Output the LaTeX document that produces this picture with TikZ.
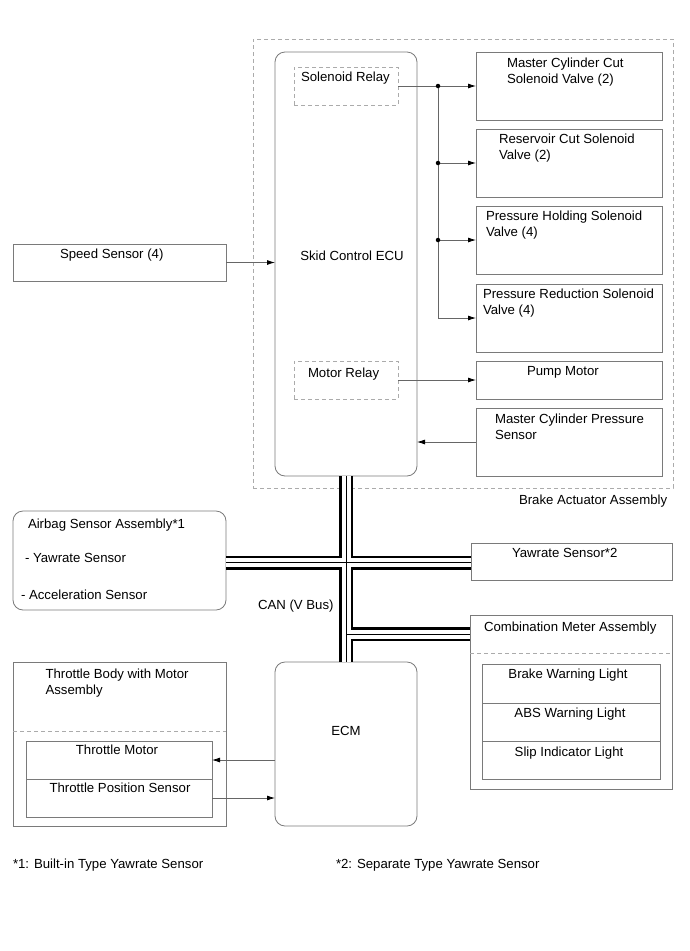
\documentclass[tikz,border=0pt]{standalone}
\usepackage{fontspec}
\setmainfont{Liberation Sans}
\usetikzlibrary{arrows.meta}
\definecolor{lc}{HTML}{7A7A7A}
\definecolor{dc}{HTML}{ABABAB}
\definecolor{ac}{HTML}{666666}
\newcommand\mkbox[6]{\node[#1, anchor=north west, minimum width={(#5-#3)*1pt}, minimum height={(#6-#4)*1pt}] (#2) at (#3,#4) {};}
\begin{document}
\begin{tikzpicture}[x=1pt,y=-1pt,
  every node/.style={inner sep=0pt, outer sep=0pt, font=\fontsize{13.2}{16}\selectfont},
  box/.style={draw=lc, line width=0.8pt},
  rbox/.style={draw=lc, line width=0.8pt, rounded corners=10pt},
  dbox/.style={draw=dc, line width=0.9pt, dash pattern=on 4pt off 3pt},
  dline/.style={draw=dc, line width=0.9pt, dash pattern=on 4pt off 3pt},
  txt/.style={anchor=north west, align=left},
  ctxt/.style={anchor=north, align=center},
  conn/.style={draw=ac, line width=0.8pt, -{Latex[length=8pt,width=5pt,color=black]}},
  plain/.style={draw=ac, line width=0.8pt},
  dot/.style={circle, fill=black, minimum size=4.5pt},
  busA/.style={draw=black, line width=14pt},
  busB/.style={draw=white, line width=9pt},
  busC/.style={draw=black, line width=1pt}
]
\useasboundingbox (0,0) rectangle (690,951);

% Brake actuator assembly
\mkbox{dbox}{act}{253}{39}{673}{488}
\mkbox{rbox}{ecu}{275}{52}{417}{476}
\mkbox{dbox}{srel}{294}{67}{398}{105}
\mkbox{dbox}{mrel}{294}{361}{398}{399}
\mkbox{box}{mcc}{476}{52}{662}{120}
\mkbox{box}{rcs}{476}{129}{662}{197}
\mkbox{box}{phs}{476}{206}{662}{274}
\mkbox{box}{prs}{476}{284}{662}{352}
\mkbox{box}{pump}{476}{361}{662}{399}
\mkbox{box}{mcps}{476}{408}{662}{476}

\node[txt] (tsrel) at (301,72) {Solenoid Relay};
\node[txt] (tmrel) at (308,367.5) {Motor Relay};
\node[ctxt] (tecu) at (352,250.5) {Skid Control ECU};
\node[txt] (tmcc) at (507,57.5) {Master Cylinder Cut\\Solenoid Valve (2)};
\node[txt] (trcs) at (499,133.5) {Reservoir Cut Solenoid\\Valve (2)};
\node[txt] (tphs) at (486,211) {Pressure Holding Solenoid\\Valve (4)};
\node[txt] (tprs) at (483,289) {Pressure Reduction Solenoid\\Valve (4)};
\node[txt] (tpump) at (527,366) {Pump Motor};
\node[txt] (tmcps) at (495,413.5) {Master Cylinder Pressure\\Sensor};
\node[txt] (tact) at (519,495) {Brake Actuator Assembly};

% Speed sensor
\mkbox{box}{speed}{13}{244}{226}{281}
\node[txt] (tspeed) at (60,249) {Speed Sensor (4)};

% connectors in actuator
\coordinate (jv) at (438,86);
\draw[conn] (srel.east) -- (mcc.west |- srel.east);
\draw[plain] (jv) -- (jv |- prs.west);
\draw[conn] (jv |- rcs.west) -- (rcs.west);
\draw[conn] (jv |- phs.west) -- (phs.west);
\draw[conn] (jv |- prs.west) -- (prs.west);
\node[dot] (d1) at (jv) {};
\node[dot] (d2) at (jv |- rcs.west) {};
\node[dot] (d3) at (jv |- phs.west) {};
\draw[conn] (mrel.east) -- (pump.west |- mrel.east);
\draw[conn] (mcps.west) -- (ecu.east |- mcps.west);
\draw[conn] (speed.east) -- (ecu.west |- speed.east);

% Airbag sensor
\mkbox{rbox}{airbag}{13}{511}{226}{610}
\node[txt] (tair) at (28,519) {Airbag Sensor Assembly*1};
\node[txt] (tairy) at (25,553.5) {- Yawrate Sensor};
\node[txt] (taira) at (21,589.5) {- Acceleration Sensor};

% Yawrate sensor
\mkbox{box}{yaw}{471}{543}{672}{580}
\node[txt] (tyaw) at (512,548.5) {Yawrate Sensor*2};

% Combination meter
\mkbox{box}{meter}{470}{615}{672}{789}
\draw[dline] (meter.west |- 0,653) coordinate (mdl) -- (meter.east |- 0,653) coordinate (mdr);
\mkbox{box}{bwl}{482}{664}{660}{703}
\mkbox{box}{abs}{482}{703}{660}{741}
\mkbox{box}{slip}{482}{741}{660}{779}
\node[txt] (tmeter) at (484,622) {Combination Meter Assembly};
\node[ctxt] (tbwl) at (568,669) {Brake Warning Light};
\node[ctxt] (tabs) at (570,708) {ABS Warning Light};
\node[ctxt] (tslip) at (569,747) {Slip Indicator Light};

% Throttle body
\mkbox{box}{thr}{13}{662}{226}{826}
\draw[dline] (thr.west |- 0,731) coordinate (tdl) -- (thr.east |- 0,731) coordinate (tdr);
\mkbox{box}{tm}{26}{741}{212}{779}
\mkbox{box}{tps}{26}{779}{212}{817}
\node[txt] (tthr) at (45.5,669) {Throttle Body with Motor\\Assembly};
\node[ctxt] (ttm) at (117,745) {Throttle Motor};
\node[ctxt] (ttps) at (120,782.5) {Throttle Position Sensor};

% ECM
\mkbox{rbox}{ecm}{275}{662}{417}{826}
\node[ctxt] (tecm) at (346,726) {ECM};

\draw[conn] (ecm.west |- tm.east) -- (tm.east);
\draw[conn] (tps.east) -- (ecm.west |- tps.east);

% CAN bus
\coordinate (j1) at (346,562.5);
\coordinate (j2) at (346,634);
\foreach \ly in {busA,busB,busC}{
  \draw[\ly] (ecu.south) -- (ecm.north);
  \draw[\ly] (airbag.east |- j1) -- (yaw.west |- j1);
  \draw[\ly] (j2) -- (meter.west |- j2);
}
\node[txt] (tcan) at (258,600) {CAN (V Bus)};

% footnotes
\node[txt] (fn1) at (13,859) {*1: Built-in Type Yawrate Sensor};
\node[txt] (fn2) at (336,859) {*2: Separate Type Yawrate Sensor};
\end{tikzpicture}
\end{document}
